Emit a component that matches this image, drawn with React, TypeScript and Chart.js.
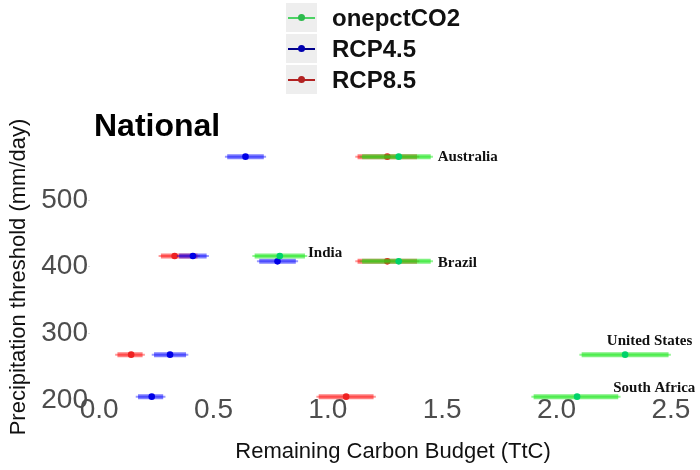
import React, { useEffect, useRef } from 'react';
import { Chart, registerables } from 'chart.js';

Chart.register(...registerables);

// ---------- data ----------
const SERIES_NAMES = ['onepctCO2', 'RCP4.5', 'RCP8.5'];
const COUNTRIES = ['Australia', 'India', 'Brazil', 'United States', 'South Africa'];
const THRESHOLDS = [565, 416, 408, 268, 205];

const GREEN_MID = [1.31, 0.79, 1.31, 2.3, 2.09];
const GREEN_LOW = [1.15, 0.68, 1.15, 2.11, 1.9];
const GREEN_HIGH = [1.45, 0.9, 1.45, 2.49, 2.27];
const GREEN_OUT_LOW = [1.14, 0.67, 1.14, 2.1, 1.89];
const GREEN_OUT_HIGH = [1.46, 0.91, 1.46, 2.5, 2.28];

const BLUE_MID = [0.64, 0.41, 0.78, 0.31, 0.23];
const BLUE_LOW = [0.56, 0.35, 0.7, 0.24, 0.17];
const BLUE_HIGH = [0.72, 0.47, 0.86, 0.38, 0.28];
const BLUE_OUT_LOW = [0.55, 0.34, 0.69, 0.23, 0.16];
const BLUE_OUT_HIGH = [0.73, 0.48, 0.87, 0.39, 0.29];

const RED_MID = [1.26, 0.33, 1.26, 0.14, 1.08];
const RED_LOW = [1.13, 0.27, 1.13, 0.08, 0.96];
const RED_HIGH = [1.39, 0.43, 1.39, 0.19, 1.2];
const RED_OUT_LOW = [1.12, 0.26, 1.12, 0.07, 0.95];
const RED_OUT_HIGH = [1.4, 0.44, 1.4, 0.2, 1.21];

const X_TICKS = [0, 0.5, 1, 1.5, 2, 2.5];
const Y_TICKS = [200, 300, 400, 500];
const X_MIN = -0.04;
const X_MAX = 2.61;
const Y_MIN = 186.5;
const Y_MAX = 582.5;

// ---------- styles ----------
const STYLE = {
  green: { bar: 'rgba(20,230,20,0.55)', thin: 'rgba(20,230,20,0.45)', dot: '#00d26a', key: '#4cd264', keyDot: '#2cba4c' },
  blue: { bar: 'rgba(0,0,255,0.5)', thin: 'rgba(0,0,255,0.4)', dot: '#0000e6', key: '#00008b', keyDot: '#0000b0' },
  red: { bar: 'rgba(255,0,0,0.5)', thin: 'rgba(255,0,0,0.4)', dot: '#ee2222', key: '#b22222', keyDot: '#b22222' },
};
// label placement relative to the right end of the onepctCO2 bar (pixels)
const LABEL_OFFSETS = [
  { dx: 7, dy: 0, align: 'left' },
  { dx: 3, dy: -3, align: 'left' },
  { dx: 7, dy: 2, align: 'left' },
  { dx: -19, dy: -14, align: 'center' },
  { dx: 36, dy: -9, align: 'center' },
];

function segments(lows: number[], highs: number[]) {
  const out: { x: number; y: number }[] = [];
  THRESHOLDS.forEach((y, i) => {
    out.push({ x: lows[i], y });
    out.push({ x: highs[i], y });
    out.push({ x: NaN, y: NaN });
  });
  return out;
}
function points(mids: number[]) {
  return THRESHOLDS.map((y, i) => ({ x: mids[i], y }));
}

function seriesDatasets(name: string, st: any, mid: number[], lo: number[], hi: number[], olo: number[], ohi: number[], baseOrder: number) {
  return [
    {
      label: name + ' range',
      data: segments(olo, ohi),
      showLine: true,
      borderColor: st.thin,
      borderWidth: 2,
      pointRadius: 0,
      pointHoverRadius: 0,
      borderCapStyle: 'butt',
      spanGaps: false,
      order: baseOrder + 2,
    },
    {
      label: name + ' likely',
      data: segments(lo, hi),
      showLine: true,
      borderColor: st.bar,
      borderWidth: 5,
      pointRadius: 0,
      pointHoverRadius: 0,
      borderCapStyle: 'butt',
      spanGaps: false,
      order: baseOrder + 1,
    },
    {
      label: name,
      data: points(mid),
      showLine: false,
      pointRadius: 3.3,
      pointBackgroundColor: st.dot,
      pointBorderColor: st.dot,
      pointBorderWidth: 0,
      order: baseOrder,
    },
  ];
}

const countryLabels = {
  id: 'countryLabels',
  afterDatasetsDraw(chart: any) {
    const { ctx, scales } = chart;
    ctx.save();
    ctx.font = 'bold 15px "Liberation Serif", "Times New Roman", serif';
    ctx.fillStyle = '#111111';
    ctx.textBaseline = 'middle';
    COUNTRIES.forEach((c, i) => {
      const o = LABEL_OFFSETS[i];
      const px = scales.x.getPixelForValue(GREEN_HIGH[i]) + o.dx;
      const py = scales.y.getPixelForValue(THRESHOLDS[i]) + o.dy;
      ctx.textAlign = o.align;
      ctx.fillText(c, px, py);
    });
    ctx.restore();
  },
};

const tickFont = { family: '"Liberation Sans", Arial, sans-serif', size: 28 };
const titleFont = { family: '"Liberation Sans", Arial, sans-serif', size: 22 };

export default function App() {
  const ref = useRef<HTMLCanvasElement | null>(null);

  useEffect(() => {
    if (!ref.current) return;
    const datasets = [
      ...seriesDatasets(SERIES_NAMES[0], STYLE.green, GREEN_MID, GREEN_LOW, GREEN_HIGH, GREEN_OUT_LOW, GREEN_OUT_HIGH, 1),
      ...seriesDatasets(SERIES_NAMES[1], STYLE.blue, BLUE_MID, BLUE_LOW, BLUE_HIGH, BLUE_OUT_LOW, BLUE_OUT_HIGH, 4),
      ...seriesDatasets(SERIES_NAMES[2], STYLE.red, RED_MID, RED_LOW, RED_HIGH, RED_OUT_LOW, RED_OUT_HIGH, 7),
    ];
    const chart = new Chart(ref.current, {
      type: 'scatter',
      data: { datasets: datasets as any },
      options: {
        responsive: false,
        animation: false,
        layout: { padding: { top: 145, right: 3, left: 0, bottom: 0 } },
        plugins: {
          legend: { display: false },
          title: { display: false },
          tooltip: { enabled: false },
        },
        scales: {
          x: {
            type: 'linear',
            min: X_MIN,
            max: X_MAX,
            afterBuildTicks: (s: any) => {
              s.ticks = X_TICKS.map((v) => ({ value: v }));
            },
            afterFit: (s: any) => {
              s.height = 61;
            },
            border: { display: false },
            grid: { display: true, drawOnChartArea: false, drawTicks: false },
            ticks: {
              font: tickFont,
              color: '#4d4d4d',
              mirror: true,
              padding: -18,
              maxRotation: 0,
              autoSkip: false,
              callback: (v: any) => Number(v).toFixed(1),
            },
            title: {
              display: true,
              text: 'Remaining Carbon Budget (TtC)',
              font: titleFont,
              color: '#111111',
              padding: { top: 0, bottom: 5 },
            },
          },
          y: {
            type: 'linear',
            min: Y_MIN,
            max: Y_MAX,
            afterBuildTicks: (s: any) => {
              s.ticks = Y_TICKS.map((v) => ({ value: v }));
            },
            afterFit: (s: any) => {
              s.width = 90;
            },
            border: { display: false },
            grid: { display: true, drawOnChartArea: false, tickLength: 2, color: '#dddddd' },
            ticks: {
              font: tickFont,
              color: '#4d4d4d',
              padding: 0,
              autoSkip: false,
            },
            title: {
              display: true,
              text: 'Precipitation threshold (mm/day)',
              font: titleFont,
              color: '#111111',
              padding: { top: 6, bottom: 0 },
            },
          },
        },
      },
      plugins: [countryLabels],
    });
    return () => chart.destroy();
  }, []);

  const legendItems = [
    { name: SERIES_NAMES[0], st: STYLE.green },
    { name: SERIES_NAMES[1], st: STYLE.blue },
    { name: SERIES_NAMES[2], st: STYLE.red },
  ];

  return (
    <div style={{ position: 'fixed', left: 0, top: 0, width: 700, height: 470, background: '#ffffff', overflow: 'hidden' }}>
      <canvas ref={ref} width={700} height={470} style={{ position: 'absolute', left: 0, top: 0, width: 700, height: 470 }} />
      <div style={{ position: 'absolute', left: 286, top: 2 }}>
        {legendItems.map((it) => (
          <div key={it.name} style={{ display: 'flex', alignItems: 'center', height: 31 }}>
            <div style={{ position: 'relative', width: 31, height: 29, background: '#eeeeee' }}>
              <div style={{ position: 'absolute', left: 2, right: 2, top: 13.5, height: 2, background: it.st.key }} />
              <div style={{ position: 'absolute', left: 12, top: 11, width: 7, height: 7, borderRadius: '50%', background: it.st.keyDot }} />
            </div>
            <div style={{ marginLeft: 15, font: 'bold 24px "Liberation Sans", Arial, sans-serif', color: '#111111', lineHeight: '31px' }}>{it.name}</div>
          </div>
        ))}
      </div>
      <div style={{ position: 'absolute', left: 94, top: 105, font: 'bold 32px "Liberation Sans", Arial, sans-serif', color: '#000000', lineHeight: '40px' }}>National</div>
    </div>
  );
}
